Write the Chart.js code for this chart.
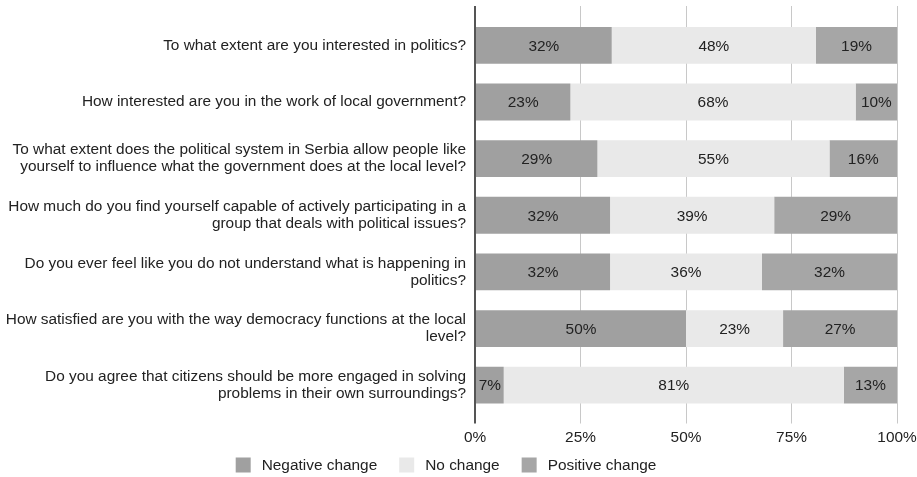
<!DOCTYPE html>
<html>
<head>
<meta charset="utf-8">
<script src="https://cdn.jsdelivr.net/npm/chart.js@4/dist/chart.umd.min.js"></script>
<style>
  html, body { margin: 0; padding: 0; background: #fff; }
  #wrap { width: 917px; height: 477px; }
</style>
</head>
<body>
<div id="wrap"><canvas id="chart"></canvas></div>
<script>
// Survey questions (two-line labels where the original wraps)
const questions = [
  'To what extent are you interested in politics?',
  'How interested are you in the work of local government?',
  ['To what extent does the political system in Serbia allow people like', 'yourself to influence what the government does at the local level?'],
  ['How much do you find yourself capable of actively participating in a', 'group that deals with political issues?'],
  ['Do you ever feel like you do not understand what is happening in', 'politics?'],
  ['How satisfied are you with the way democracy functions at the local', 'level?'],
  ['Do you agree that citizens should be more engaged in solving', 'problems in their own surroundings?']
];

// Shares in percent
const negativeChange = [32.4, 22.6, 29.0, 32.0, 32.0, 50.0, 6.8];
const noChange       = [48.4, 67.6, 55.0, 38.9, 36.0, 23.0, 80.6];
const positiveChange = [19.2,  9.8, 16.0, 29.1, 32.0, 27.0, 12.6];

const xTicks = [0, 25, 50, 75, 100];

const FONT = 'Arial, "Liberation Sans", sans-serif';
const FS = 15.4;
const TEXT = '#222';
const GRID = '#c8c8c8';
const AXIS = '#555';

// draws the value in the middle of every bar segment
const barLabels = {
  id: 'barLabels',
  afterDatasetsDraw(chart) {
    const ctx = chart.ctx;
    ctx.save();
    ctx.font = FS + 'px ' + FONT;
    ctx.fillStyle = TEXT;
    ctx.textAlign = 'center';
    ctx.textBaseline = 'middle';
    chart.data.datasets.forEach((ds, i) => {
      chart.getDatasetMeta(i).data.forEach((bar, j) => {
        const p = bar.getCenterPoint();
        ctx.fillText(Math.round(ds.data[j]) + '%', p.x, p.y + 1);
      });
    });
    ctx.restore();
  }
};

// legend row under the axis (wider item spacing than the built-in one allows)
const legendRow = {
  id: 'legendRow',
  afterDraw(chart) {
    const ctx = chart.ctx;
    ctx.save();
    ctx.font = FS + 'px ' + FONT;
    ctx.textBaseline = 'middle';
    const items = chart.data.datasets.map(ds => ({ text: ds.label, color: ds.backgroundColor, w: ctx.measureText(ds.label).width }));
    const total = items.reduce((s, it) => s + 26 + it.w, 0) + 22 * (items.length - 1);
    let x = 446 - total / 2;
    const y = 465;
    items.forEach(it => {
      ctx.fillStyle = it.color;
      ctx.fillRect(x, y - 7.5, 15, 15);
      ctx.fillStyle = TEXT;
      ctx.fillText(it.text, x + 26, y + 1);
      x += 26 + it.w + 22;
    });
    ctx.restore();
  }
};

const gridColor = c => (c.tick && c.tick.value === 0 ? AXIS : GRID);
const gridWidth = c => (c.tick && c.tick.value === 0 ? 2 : 1);

new Chart(document.getElementById('chart'), {
  type: 'bar',
  data: {
    labels: questions,
    datasets: [
      { label: 'Negative change', data: negativeChange, backgroundColor: '#a0a0a0' },
      { label: 'No change', data: noChange, backgroundColor: '#e9e9e9' },
      { label: 'Positive change', data: positiveChange, backgroundColor: '#a6a6a6' }
    ]
  },
  options: {
    indexAxis: 'y',
    responsive: true,
    maintainAspectRatio: false,
    animation: false,
    layout: { padding: { top: 6, right: 20, left: 0, bottom: 25 } },
    datasets: { bar: { barPercentage: 0.65, categoryPercentage: 1 } },
    plugins: {
      legend: { display: false },
      tooltip: { enabled: false }
    },
    scales: {
      x: {
        stacked: true, min: 0, max: 100,
        afterBuildTicks: s => { s.ticks = xTicks.map(v => ({ value: v })); },
        afterFit: s => { s.paddingLeft = 0; s.paddingRight = 0; },
        ticks: { callback: v => v + '%', color: TEXT, padding: 5, font: { family: FONT, size: FS } },
        grid: { color: gridColor, tickColor: gridColor, lineWidth: gridWidth, tickLength: 10 },
        border: { display: false }
      },
      x2: {
        position: 'top', min: 0, max: 100,
        afterBuildTicks: s => { s.ticks = xTicks.map(v => ({ value: v })); },
        afterFit: s => { s.paddingLeft = 0; s.paddingRight = 0; },
        ticks: { display: false },
        grid: { drawOnChartArea: false, tickColor: gridColor, lineWidth: gridWidth, tickLength: 11 },
        border: { display: false }
      },
      y: {
        stacked: true,
        afterFit: s => { s.width = 475; s.paddingTop = 0; s.paddingBottom = 0; },
        ticks: { color: TEXT, padding: 9, font: { family: FONT, size: FS, lineHeight: 1.1 } },
        grid: { display: false, drawTicks: false },
        border: { display: false }
      }
    }
  },
  plugins: [barLabels, legendRow]
});
</script>
</body>
</html>
